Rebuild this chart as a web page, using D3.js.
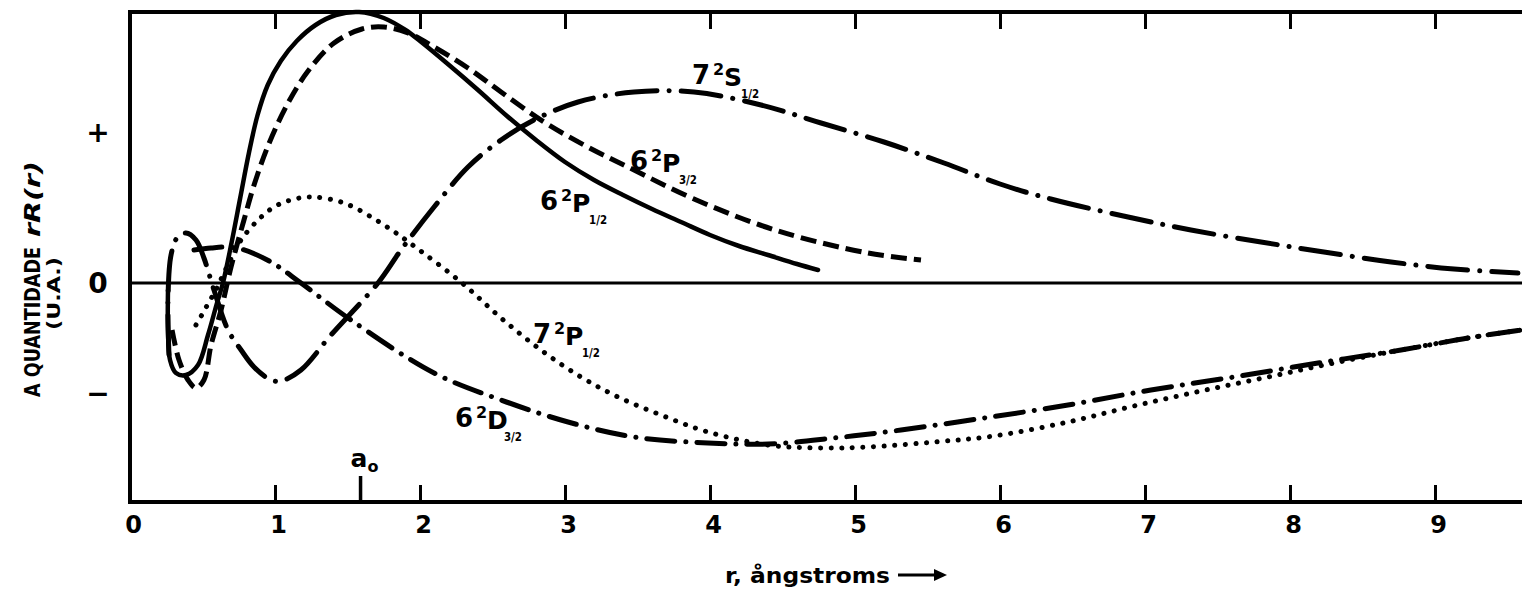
<!DOCTYPE html>
<html>
<head>
<meta charset="utf-8">
<script src="https://cdn.jsdelivr.net/npm/d3@7"></script>
<style>
  html, body { margin: 0; padding: 0; background: #fff; }
  svg { display: block; }
  text { font-family: "DejaVu Sans", sans-serif; font-weight: bold; fill: #000; }
</style>
</head>
<body>
<svg id="chart" width="1522" height="597"></svg>
<script>
// r·R(r) radial functions (arbitrary units) versus r in ångströms
const xTickValues = [0, 1, 2, 3, 4, 5, 6, 7, 8, 9];
const xTickLabels = ["0", "1", "2", "3", "4", "5", "6", "7", "8", "9"];
const yTickValues = [1.51, 0, -1.10];
const yTickLabels = ["+", "0", "−"];
const bohrRadius = 1.59;

// 6 ²P1/2 — solid
const s6P12 = [
  [0.262, -0.07], [0.262, -0.47], [0.276, -0.77], [0.317, -0.90], [0.386, -0.92],
  [0.469, -0.82], [0.538, -0.52], [0.600, -0.20], [0.641, 0.00], [0.700, 0.40],
  [0.760, 0.85], [0.820, 1.30], [0.880, 1.68], [0.950, 1.98], [1.040, 2.22],
  [1.150, 2.42], [1.280, 2.58], [1.420, 2.68], [1.580, 2.71], [1.750, 2.65],
  [1.900, 2.53], [2.000, 2.42], [2.200, 2.18], [2.400, 1.93], [2.600, 1.67],
  [2.800, 1.43], [3.000, 1.21], [3.200, 1.03], [3.400, 0.88], [3.600, 0.74],
  [3.800, 0.61], [4.000, 0.48], [4.200, 0.37], [4.400, 0.28], [4.600, 0.19],
  [4.745, 0.13]
];

// 6 ²P3/2 — dashed
const s6P32 = [
  [0.290, -0.47], [0.338, -0.77], [0.400, -0.97], [0.455, -1.05], [0.510, -0.97],
  [0.559, -0.62], [0.628, -0.27], [0.697, 0.16], [0.786, 0.63], [0.860, 1.00],
  [0.960, 1.40], [1.090, 1.80], [1.228, 2.12], [1.407, 2.40], [1.600, 2.54],
  [1.752, 2.56], [1.917, 2.50], [2.097, 2.36], [2.331, 2.15], [2.559, 1.91],
  [2.855, 1.61], [3.131, 1.38], [3.434, 1.16], [3.890, 0.84], [4.469, 0.52],
  [5.090, 0.30], [5.455, 0.23]
];

// 7 ²S1/2 — long dash-dot
const s7S12 = [
  [0.269, -0.72], [0.262, -0.17], [0.283, 0.28], [0.324, 0.45], [0.386, 0.50],
  [0.455, 0.43], [0.510, 0.25], [0.579, -0.07], [0.676, -0.47], [0.766, -0.67],
  [0.855, -0.84], [0.972, -0.97], [1.041, -0.98], [1.179, -0.87], [1.386, -0.52],
  [1.710, 0.00], [1.869, 0.33], [2.097, 0.76], [2.331, 1.16], [2.559, 1.43],
  [2.786, 1.63], [3.090, 1.81], [3.476, 1.91], [3.890, 1.91], [4.352, 1.78],
  [4.766, 1.60], [5.200, 1.41], [5.614, 1.20], [6.000, 0.99], [6.350, 0.84],
  [6.883, 0.66], [7.317, 0.53], [7.800, 0.41], [8.234, 0.31], [8.697, 0.21],
  [9.131, 0.14], [9.572, 0.10]
];

// 7 ²P1/2 — dotted
const s7P12 = [
  [0.455, -0.42], [0.503, -0.30], [0.545, -0.19], [0.593, -0.07], [0.641, 0.08],
  [0.710, 0.28], [0.766, 0.43], [0.883, 0.63], [0.993, 0.76], [1.110, 0.83],
  [1.248, 0.86], [1.476, 0.80], [1.752, 0.58], [1.986, 0.34], [2.290, 0.00],
  [2.559, -0.35], [2.834, -0.67], [3.110, -0.94], [3.366, -1.14], [3.662, -1.32],
  [3.986, -1.49], [4.400, -1.62], [4.745, -1.65], [5.090, -1.64], [5.545, -1.59],
  [5.959, -1.53], [6.469, -1.39], [6.924, -1.23], [7.386, -1.08], [7.848, -0.94],
  [8.303, -0.80], [8.766, -0.67], [9.228, -0.55], [9.593, -0.47]
];

// 6 ²D3/2 — dash-dot
const s6D32 = [
  [0.441, 0.33], [0.559, 0.35], [0.662, 0.36], [0.766, 0.34], [0.972, 0.21],
  [1.179, 0.00], [1.524, -0.37], [2.097, -0.90], [2.559, -1.17], [3.021, -1.39],
  [3.476, -1.54], [3.986, -1.60], [4.400, -1.61], [4.855, -1.55], [5.317, -1.47],
  [5.890, -1.35], [6.469, -1.22], [7.041, -1.07], [7.614, -0.94], [8.193, -0.80],
  [8.766, -0.67], [9.228, -0.55], [9.593, -0.47]
];

// term symbols: principal number, multiplicity, orbital letter, j
const curveNames = [
  { n: "7", mult: "2", l: "S", j: "1/2" },
  { n: "6", mult: "2", l: "P", j: "3/2" },
  { n: "6", mult: "2", l: "P", j: "1/2" },
  { n: "7", mult: "2", l: "P", j: "1/2" },
  { n: "6", mult: "2", l: "D", j: "3/2" }
];

// ---------- layout ----------
const svg = d3.select("#chart");
const plot = { left: 130, right: 1522, top: 12, bottom: 502 };

const x = d3.scaleLinear().domain([0, 9.6]).range([plot.left, plot.right]);
const y = d3.scaleLinear().domain([-2.19, 2.71]).range([plot.bottom, plot.top]);

const line = d3.line()
  .x(d => x(d[0]))
  .y(d => y(d[1]))
  .curve(d3.curveCatmullRom.alpha(0.5));

// zero line
svg.append("line")
  .attr("x1", plot.left).attr("x2", plot.right)
  .attr("y1", y(0)).attr("y2", y(0))
  .attr("stroke", "#000").attr("stroke-width", 3);

// curves
const curveStyles = [
  { data: s7S12, width: 5,   dash: "40,12,0.1,12", cap: "round" },
  { data: s6P32, width: 5,   dash: "16,7",         cap: "butt" },
  { data: s6P12, width: 4.5, dash: null,           cap: "round" },
  { data: s7P12, width: 5,   dash: "0.1,10.5",     cap: "round" },
  { data: s6D32, width: 5,   dash: "28,11,0.1,11", cap: "round" }
];

const curves = svg.append("g").attr("fill", "none").attr("stroke", "#000");
curveStyles.forEach(s => {
  curves.append("path")
    .datum(s.data)
    .attr("d", line)
    .attr("stroke-width", s.width)
    .attr("stroke-linecap", s.cap)
    .attr("stroke-linejoin", "round")
    .attr("stroke-dasharray", s.dash);
});

// frame: left, top, bottom
svg.append("path")
  .attr("d", `M${plot.right},${plot.top}H${plot.left}V${plot.bottom}H${plot.right}`)
  .attr("fill", "none").attr("stroke", "#000").attr("stroke-width", 4);

// inward ticks on bottom edge with labels
const bottomAxis = d3.axisBottom(x)
  .tickValues(xTickValues)
  .tickFormat((d, i) => xTickLabels[i])
  .tickSizeInner(-17)
  .tickSizeOuter(0)
  .tickPadding(14);
const gb = svg.append("g")
  .attr("transform", `translate(0,${plot.bottom})`)
  .call(bottomAxis);
gb.select(".domain").remove();
gb.selectAll(".tick line").attr("stroke", "#000").attr("stroke-width", 3);
gb.selectAll(".tick text")
  .attr("font-family", "DejaVu Sans")
  .attr("font-weight", "bold")
  .attr("font-size", 24)
  .attr("dx", 3)
  .attr("fill", "#000");

// inward ticks on top edge
const gt = svg.append("g")
  .attr("transform", `translate(0,${plot.top})`)
  .call(d3.axisTop(x)
    .tickValues(xTickValues.filter(v => v > 0))
    .tickFormat("")
    .tickSizeInner(-17)
    .tickSizeOuter(0));
gt.select(".domain").remove();
gt.selectAll(".tick line").attr("stroke", "#000").attr("stroke-width", 3);

// y-axis sign labels
svg.append("g").selectAll("text")
  .data(yTickValues)
  .join("text")
  .attr("x", 98)
  .attr("y", d => y(d))
  .attr("dy", "0.36em")
  .attr("text-anchor", "middle")
  .attr("font-size", 28)
  .text((d, i) => yTickLabels[i]);

// Bohr radius marker
svg.append("line")
  .attr("x1", x(bohrRadius)).attr("x2", x(bohrRadius))
  .attr("y1", plot.bottom).attr("y2", plot.bottom - 26)
  .attr("stroke", "#000").attr("stroke-width", 3.5);
const a0 = svg.append("text")
  .attr("x", x(bohrRadius) - 10)
  .attr("y", plot.bottom - 35)
  .attr("font-size", 25);
a0.append("tspan").text("a");
a0.append("tspan").attr("font-size", 16).attr("dy", 5).text("o");

// curve labels, anchored at the baseline-left of the principal number
const labelAnchors = [
  [3.876, 1.99],
  [3.448, 1.13],
  [2.828, 0.73],
  [2.779, -0.60],
  [2.241, -1.44]
];
curveNames.forEach((t, i) => {
  const g = svg.append("g")
    .attr("transform", `translate(${x(labelAnchors[i][0])},${y(labelAnchors[i][1])})`);
  g.append("text").attr("font-size", 26).text(t.n);
  g.append("text").attr("x", 21).attr("y", -9).attr("font-size", 16).text(t.mult);
  g.append("text").attr("x", 32).attr("y", 2).attr("font-size", 25).text(t.l);
  g.append("text").attr("x", 49).attr("y", 14).attr("font-size", 13)
    .attr("textLength", 18).attr("lengthAdjust", "spacingAndGlyphs").text(t.j);
});

// y-axis title
svg.append("text")
  .attr("transform", "translate(40,397) rotate(-90)")
  .attr("font-size", 21)
  .attr("textLength", 150).attr("lengthAdjust", "spacingAndGlyphs")
  .text("A QUANTIDADE");
svg.append("text")
  .attr("transform", "translate(40,237) rotate(-90)")
  .attr("font-family", "DejaVu Serif").attr("font-style", "italic")
  .attr("font-size", 21)
  .attr("textLength", 76).attr("lengthAdjust", "spacingAndGlyphs")
  .text("rR(r)");
svg.append("text")
  .attr("transform", "translate(60,330) rotate(-90)")
  .attr("font-size", 18)
  .attr("textLength", 73).attr("lengthAdjust", "spacingAndGlyphs")
  .text("(U.A.)");

// x-axis title with arrow
svg.append("text")
  .attr("x", 725).attr("y", 583)
  .attr("font-size", 22)
  .attr("textLength", 165).attr("lengthAdjust", "spacingAndGlyphs")
  .text("r, ångstroms");
svg.append("path")
  .attr("d", "M898,575H938")
  .attr("stroke", "#000").attr("stroke-width", 3);
svg.append("path")
  .attr("d", "M934,569L947,575L934,581Z")
  .attr("fill", "#000");
</script>
</body>
</html>
